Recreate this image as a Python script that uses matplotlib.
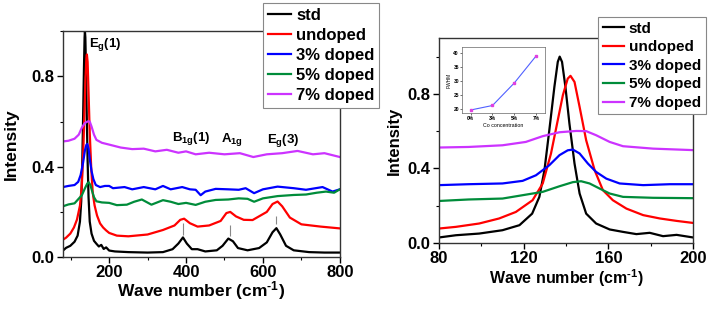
import numpy as np
import matplotlib
matplotlib.use('Agg')
import matplotlib.pyplot as plt
from matplotlib.ticker import MultipleLocator

plt.rcParams['font.family'] = ['Liberation Sans', 'DejaVu Sans']
plt.rcParams['font.weight'] = 'bold'
plt.rcParams['mathtext.fontset'] = 'custom'
plt.rcParams['mathtext.rm'] = 'Liberation Sans:bold'
plt.rcParams['mathtext.bf'] = 'Liberation Sans:bold'
plt.rcParams['mathtext.it'] = 'Liberation Sans:bold'

# Raman spectra (wave number, intensity)
std_wn = [80, 88, 99, 110, 118, 124, 127.4, 129.8, 132.1, 134.5, 136.1, 137, 138.1, 139.7, 141.6, 144,
          146.4, 149.5, 154.2, 160.6, 166.9, 173.2, 179.5, 185.8, 192.2, 200, 215, 250, 300, 340, 365,
          380, 392, 402, 415, 430, 450, 480, 495, 510, 522, 535, 560, 590, 610, 625, 635, 645, 660,
          680, 720, 760, 800]
std_int = [0.029, 0.041, 0.05, 0.068, 0.095, 0.157, 0.247, 0.39, 0.605, 0.838, 0.972, 1.0, 0.972, 0.838,
           0.64, 0.426, 0.265, 0.157, 0.104, 0.072, 0.059, 0.047, 0.054, 0.036, 0.043, 0.029, 0.025,
           0.022, 0.02, 0.022, 0.035, 0.06, 0.087, 0.06, 0.035, 0.035, 0.025, 0.03, 0.05, 0.082, 0.07,
           0.04, 0.03, 0.04, 0.065, 0.11, 0.128, 0.1, 0.05, 0.03, 0.022, 0.02, 0.02]

und_wn = [80, 88, 99, 108.4, 116.3, 124.2, 129, 132.9, 136.1, 138.5, 140.8, 142.1, 144, 146.4, 149.5,
          153.5, 157.4, 162.1, 168.5, 176.4, 184.3, 192.2, 200, 220, 250, 300, 340, 370, 385, 395, 410,
          430, 460, 490, 505, 515, 530, 550, 573, 610, 625, 638, 650, 670, 700, 750, 800]
und_int = [0.077, 0.086, 0.104, 0.131, 0.166, 0.229, 0.319, 0.48, 0.659, 0.793, 0.882, 0.897, 0.864,
           0.73, 0.551, 0.39, 0.283, 0.229, 0.184, 0.149, 0.131, 0.118, 0.107, 0.095, 0.092, 0.1, 0.12,
           0.14, 0.165, 0.17, 0.15, 0.135, 0.14, 0.16, 0.195, 0.2, 0.18, 0.165, 0.164, 0.2, 0.235,
           0.246, 0.225, 0.175, 0.145, 0.135, 0.127]

d3_wn = [80, 94, 110, 119.5, 125.8, 132.1, 136.9, 140.8, 143.2, 146.4, 150.3, 154.2, 159, 165.3, 176.4,
         189, 200, 210, 240, 260, 290, 320, 340, 360, 390, 410, 425, 438, 450, 477, 510, 537, 555, 577,
         600, 638, 680, 712, 755, 781, 800]
d3_int = [0.31, 0.315, 0.319, 0.333, 0.363, 0.417, 0.471, 0.497, 0.501, 0.48, 0.426, 0.381, 0.345, 0.319,
          0.31, 0.315, 0.315, 0.305, 0.31, 0.3, 0.31, 0.3, 0.315, 0.3, 0.31, 0.3, 0.298, 0.274, 0.29,
          0.302, 0.3, 0.298, 0.305, 0.283, 0.3, 0.312, 0.305, 0.298, 0.31, 0.29, 0.3]

d5_wn = [80, 94, 110, 119.5, 129, 136.9, 143.2, 147.1, 151.1, 155.8, 160.6, 166.9, 181.1, 200, 220, 246,
         265, 285, 310, 340, 360, 380, 400, 425, 450, 477, 510, 537, 560, 577, 600, 638, 680, 712, 740,
         764, 785, 800]
d5_int = [0.225, 0.233, 0.238, 0.256, 0.274, 0.304, 0.326, 0.331, 0.319, 0.292, 0.265, 0.247, 0.242,
          0.24, 0.23, 0.232, 0.245, 0.255, 0.232, 0.252, 0.245, 0.235, 0.24, 0.231, 0.245, 0.253, 0.255,
          0.26, 0.258, 0.245, 0.26, 0.27, 0.275, 0.277, 0.285, 0.29, 0.285, 0.3]

d7_wn = [80, 94, 110, 121, 129, 136.9, 144.8, 149.5, 154.2, 160.6, 166.9, 181.1, 200, 230, 260, 290, 320,
         350, 380, 400, 425, 460, 500, 540, 575, 610, 650, 690, 730, 760, 800]
d7_int = [0.512, 0.515, 0.524, 0.542, 0.573, 0.594, 0.601, 0.6, 0.578, 0.542, 0.519, 0.506, 0.498, 0.485,
          0.478, 0.48, 0.468, 0.475, 0.462, 0.468, 0.455, 0.462, 0.455, 0.46, 0.443, 0.455, 0.46, 0.47,
          0.455, 0.46, 0.443]

labels = ['std', 'undoped', '3% doped', '5% doped', '7% doped']
colors = ['black', '#FF0000', '#0000FF', '#008C3A', '#CC33FF']
series = [(std_wn, std_int), (und_wn, und_int), (d3_wn, d3_int), (d5_wn, d5_int), (d7_wn, d7_int)]

# peak assignments and the small marker lines under them
mode_names = [r'E$_{g}$(1)', r'B$_{1g}$(1)', r'A$_{1g}$', r'E$_{g}$(3)']
mode_pos = [190, 414, 519, 654]
mode_y = [0.94, 0.525, 0.52, 0.515]
mark_wn = [392, 515, 635]
mark_lo = [0.098, 0.093, 0.145]
mark_hi = [0.152, 0.14, 0.18]

# inset
conc = ['0%', '3%', '5%', '7%']
fwhm = [19.6, 21.2, 29.2, 38.8]

xlab = r'Wave number (cm$^{\text{-1}}$)'

fig = plt.figure(figsize=(7.08, 3.09), dpi=100)
ax1 = fig.add_axes([0.089, 0.168, 0.391, 0.731])
ax2 = fig.add_axes([0.620, 0.214, 0.359, 0.663])

for ax in (ax1, ax2):
    for (x, y), c, lab in zip(series, colors, labels):
        ax.plot(x, y, color=c, lw=1.6, label=lab)
    ax.tick_params(which='major', direction='out', length=4, width=1, labelsize=12, pad=2)
    ax.tick_params(which='minor', direction='out', length=2.5, width=0.8)
    ax.yaxis.set_major_locator(MultipleLocator(0.4))
    ax.yaxis.set_minor_locator(MultipleLocator(0.2))
    for s in ax.spines.values():
        s.set_linewidth(1.0)
        s.set_color('#333333')

ax1.set_ylabel('Intensity', fontsize=12.5, fontweight='bold', labelpad=9)
ax2.set_ylabel('Intensity', fontsize=12, fontweight='bold', labelpad=4)

ax1.set_xlim(80, 800)
ax1.set_ylim(0, 1.0)
ax1.xaxis.set_major_locator(MultipleLocator(200))
ax1.xaxis.set_minor_locator(MultipleLocator(100))
ax1.set_xlabel(xlab, fontsize=12.5, fontweight='bold', labelpad=-1)

for name, xp, yp in zip(mode_names, mode_pos, mode_y):
    ax1.text(xp, yp, name, fontsize=9.5, fontweight='bold', ha='center', va='center')
ax1.vlines(mark_wn, mark_lo, mark_hi, color='#888888', lw=0.8)

ax2.set_xlim(80, 200)
ax2.set_ylim(0, 1.1)
ax2.xaxis.set_major_locator(MultipleLocator(40))
ax2.xaxis.set_minor_locator(MultipleLocator(20))
ax2.set_xlabel(xlab, fontsize=11.5, fontweight='bold', labelpad=1)

leg1 = fig.legend(*ax1.get_legend_handles_labels(), loc='upper left', bbox_to_anchor=(0.371, 0.99),
                  fontsize=12, frameon=True, fancybox=False, framealpha=1, edgecolor='#888888',
                  handlelength=1.4, handletextpad=0.3, labelspacing=0.3, borderpad=0.3, borderaxespad=0)
leg2 = fig.legend(*ax2.get_legend_handles_labels(), loc='upper left', bbox_to_anchor=(0.845, 0.945),
                  fontsize=11, frameon=True, fancybox=False, framealpha=1, edgecolor='#888888',
                  handlelength=1.4, handletextpad=0.3, labelspacing=0.3, borderpad=0.3, borderaxespad=0)
for lg in (leg1, leg2):
    lg.get_frame().set_linewidth(0.8)

# FWHM inset
axi = fig.add_axes([0.6525, 0.634, 0.117, 0.214])
axi.plot(range(len(conc)), fwhm, color='#5060FF', lw=0.8, marker='s', ms=2,
         mfc='#E040E0', mec='#E040E0')
axi.set_xlim(-0.4, 3.4)
axi.set_ylim(18.5, 42)
axi.set_xticks(range(len(conc)))
axi.set_xticklabels(conc)
axi.set_yticks([20, 25, 30, 35, 40])
axi.tick_params(labelsize=3.5, length=1.2, width=0.4, pad=1)
axi.set_xlabel('Co concentration', fontsize=3.8, labelpad=1)
axi.set_ylabel('FWHM', fontsize=3.5, labelpad=1)
for s in axi.spines.values():
    s.set_linewidth(0.5)
    s.set_color('#666666')

fig.savefig('out.png', dpi=100)
